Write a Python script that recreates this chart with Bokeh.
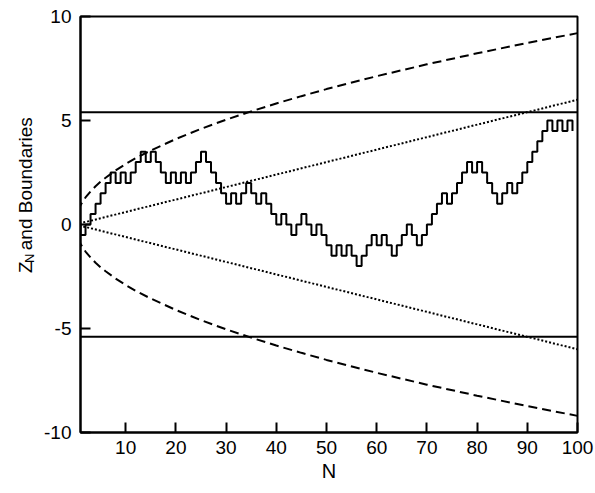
import math
from bokeh.plotting import figure
from bokeh.layouts import row
from bokeh.models import FixedTicker, Span, Range1d
from bokeh.core.properties import value
from bokeh.embed import file_html
from bokeh.resources import INLINE

# ---- data ----
N_steps = list(range(0, 100))
Z_N = [0.0, -0.5, 0.0, 0.5, 1.0, 1.5, 2.0, 2.5, 2.0, 2.5,
       2.0, 2.5, 3.0, 3.5, 3.0, 3.5, 3.0, 2.5, 2.0, 2.5,
       2.0, 2.5, 2.0, 2.5, 3.0, 3.5, 3.0, 2.5, 2.0, 1.5,
       1.0, 1.5, 1.0, 1.5, 2.0, 1.5, 1.0, 1.5, 1.0, 0.5,
       0.0, 0.5, 0.0, -0.5, 0.0, 0.5, 0.0, -0.5, 0.0, -0.5,
       -1.0, -1.5, -1.0, -1.5, -1.0, -1.5, -2.0, -1.5, -1.0, -0.5,
       -1.0, -0.5, -1.0, -1.5, -1.0, -0.5, 0.0, -0.5, -1.0, -0.5,
       0.0, 0.5, 1.0, 1.5, 1.0, 1.5, 2.0, 2.5, 3.0, 2.5,
       3.0, 2.5, 2.0, 1.5, 1.0, 1.5, 2.0, 1.5, 2.0, 2.5,
       3.0, 3.5, 4.0, 4.5, 5.0, 4.5, 5.0, 4.5, 5.0, 4.5]

# curved (dashed) boundary, read at a set of N values
curve_N = [0, 0.25, 0.5, 1, 1.5, 2, 3, 4, 5, 6, 8, 10, 12, 15, 20, 25,
           30, 35, 40, 45, 50, 60, 70, 80, 90, 100]
curve_up = [0.0, 0.46, 0.65, 0.92, 1.13, 1.30, 1.59, 1.84, 2.06, 2.25, 2.60,
            2.91, 3.19, 3.56, 4.11, 4.60, 5.04, 5.44, 5.82, 6.17, 6.51,
            7.13, 7.70, 8.23, 8.73, 9.20]
curve_dn = [-v for v in curve_up]

# straight (dotted) boundary
lin_N = [0, 100]
lin_up = [0.0, 6.0]
lin_dn = [0.0, -6.0]

# flat (solid) boundary
flat_level = 5.4

x_ticks = [10, 20, 30, 40, 50, 60, 70, 80, 90, 100]
y_ticks = [-10, -5, 0, 5, 10]
y_tick_labels = {-10: "-10", -5: "-5", 0: "0", 5: "5", 10: "10"}

# ---- layout ----
W, H = 595, 493
LW = 40                      # width of the strip that carries the y label
L, R, T, B = 40, 18, 16, 61  # borders of the main plot
FONT = "Liberation Sans"

p = figure(width=W - LW, height=H, x_range=Range1d(1, 100), y_range=Range1d(-10, 10),
           output_backend="svg", toolbar_location=None,
           min_border_left=L, min_border_right=R, min_border_top=T, min_border_bottom=B)
p.xgrid.visible = False
p.ygrid.visible = False
p.outline_line_color = "black"
p.outline_line_width = 2
p.outline_line_alpha = 1.0
p.background_fill_color = "white"
p.border_fill_color = "white"

for ax in (p.xaxis[0], p.yaxis[0]):
    ax.axis_line_color = "black"
    ax.axis_line_width = 2
    ax.major_tick_line_color = "black"
    ax.major_tick_line_width = 2
    ax.major_tick_in = 10
    ax.major_tick_out = 0
    ax.minor_tick_line_color = None
    ax.major_label_text_font = FONT
    ax.major_label_text_font_size = "19px"
    ax.major_label_text_color = "black"

p.xaxis.ticker = FixedTicker(ticks=x_ticks)
p.yaxis.ticker = FixedTicker(ticks=y_ticks)
p.yaxis.major_label_overrides = y_tick_labels
p.xaxis.major_label_standoff = 8
p.yaxis.major_label_standoff = 9
p.xaxis.axis_label = "N"
p.xaxis.axis_label_text_font = FONT
p.xaxis.axis_label_text_font_size = "20px"
p.xaxis.axis_label_text_font_style = "normal"
p.xaxis.axis_label_text_color = "black"
p.xaxis.axis_label_standoff = 3

# boundaries
p.add_layout(Span(location=flat_level, dimension="width", line_color="black", line_width=2))
p.add_layout(Span(location=-flat_level, dimension="width", line_color="black", line_width=2))
p.line(curve_N, curve_up, line_color="black", line_width=2, line_dash="9 5")
p.line(curve_N, curve_dn, line_color="black", line_width=2, line_dash="9 5")
p.line(lin_N, lin_up, line_color="black", line_width=2, line_dash="2 2")
p.line(lin_N, lin_dn, line_color="black", line_width=2, line_dash="2 2")

# random walk
p.step(N_steps, Z_N, mode="after", line_color="black", line_width=2)

# ---- y-axis label strip (pixel coordinates, y measured from the top) ----
lf = figure(width=LW, height=H, x_range=Range1d(0, LW), y_range=Range1d(H, 0),
            output_backend="svg", toolbar_location=None,
            min_border_left=0, min_border_right=0, min_border_top=0, min_border_bottom=0,
            x_axis_type=None, y_axis_type=None)
lf.xgrid.visible = False
lf.ygrid.visible = False
lf.outline_line_color = None
lf.background_fill_color = "white"
lf.border_fill_color = "white"

txt_kw = dict(angle=math.pi / 2, text_font=value(FONT), text_color="black",
              text_align="left", text_baseline="alphabetic")
lf.text(x=[25], y=[304], text=["Z"], text_font_size=value("19px"), **txt_kw)
lf.text(x=[29], y=[292], text=["N"], text_font_size=value("13px"), **txt_kw)
lf.text(x=[25], y=[277], text=["and Boundaries"], text_font_size=value("19px"), **txt_kw)

layout = row(lf, p)
open("out.html", "w").write(file_html(layout, INLINE))
